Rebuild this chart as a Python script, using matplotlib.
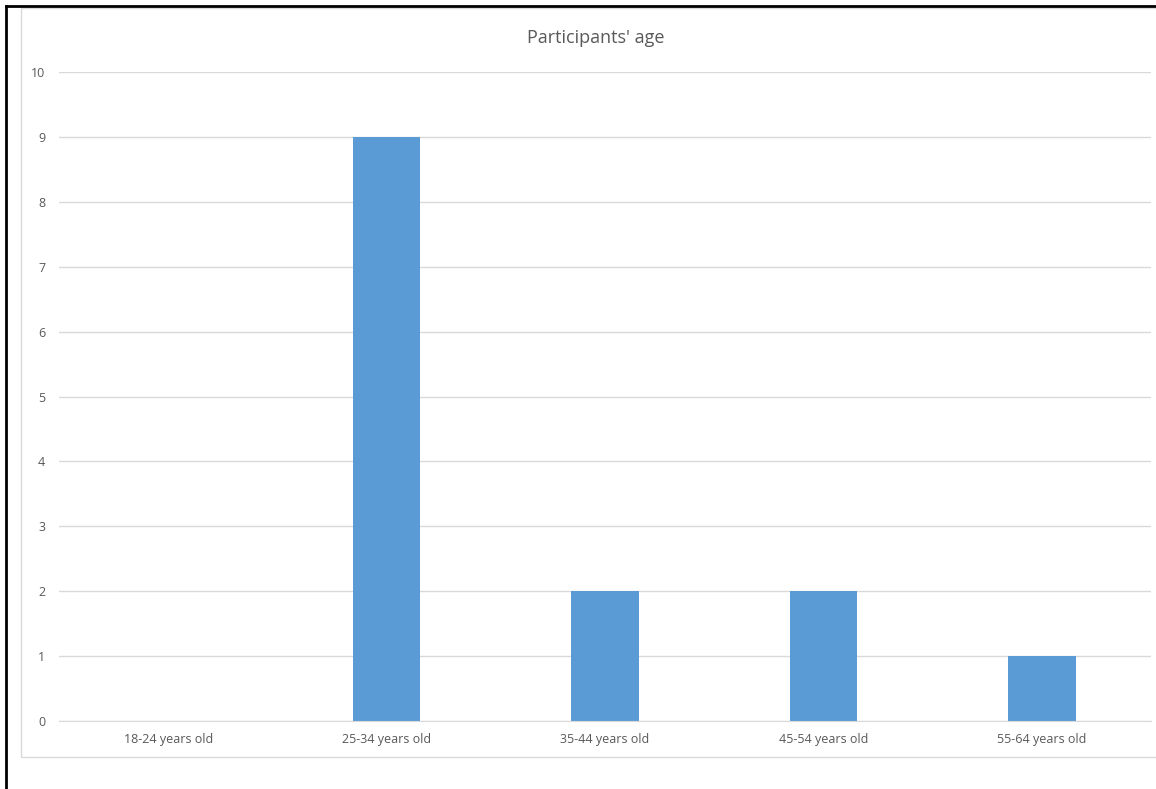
import matplotlib.pyplot as plt
import matplotlib.patches as mpatches
from matplotlib.lines import Line2D

# participant counts per age group
age_groups = ['18-24 years old', '25-34 years old', '35-44 years old',
              '45-54 years old', '55-64 years old']
counts = [0, 9, 2, 2, 1]

W, H = 1156, 789
fig = plt.figure(figsize=(W / 100, H / 100), dpi=100)
plt.rcParams['font.family'] = ['Open Sans', 'DejaVu Sans']

ax = fig.add_axes([59 / W, 1 - 721 / H, (1151 - 59) / W, (721 - 72) / H])
x = range(len(age_groups))
ax.bar(x, counts, width=0.31, color='#5B9BD5', zorder=3)

ax.set_xlim(-0.5, len(age_groups) - 0.5)
ax.set_ylim(0, 10)
ax.set_yticks(range(0, 11))
ax.set_xticks(list(x))
ax.set_xticklabels(age_groups)
ax.tick_params(axis='both', length=0, labelsize=9, colors='#595959')
ax.tick_params(axis='y', pad=10)
ax.tick_params(axis='x', pad=9)
ax.grid(axis='y', color='#d9d9d9', linewidth=1, zorder=0)
for s in ['top', 'right', 'left']:
    ax.spines[s].set_visible(False)
ax.spines['bottom'].set_color('#d9d9d9')
ax.spines['bottom'].set_zorder(4)

fig.text(596 / W, 1 - 38 / H, "Participants' age", ha='center', va='center',
         fontsize=13, color='#595959')

# chart frame and page borders
fig.add_artist(mpatches.Rectangle((21 / W, 1 - 757 / H), 1.0, (757 - 8) / H,
                                  transform=fig.transFigure, fill=False,
                                  edgecolor='#d9d9d9', linewidth=1))
fig.add_artist(Line2D([6 / W, 6 / W], [0, 1 - 6 / H], transform=fig.transFigure,
                      color='black', linewidth=2))
fig.add_artist(Line2D([6 / W, 1], [1 - 6 / H, 1 - 6 / H], transform=fig.transFigure,
                      color='black', linewidth=2))

fig.savefig('out.png', dpi=100)
